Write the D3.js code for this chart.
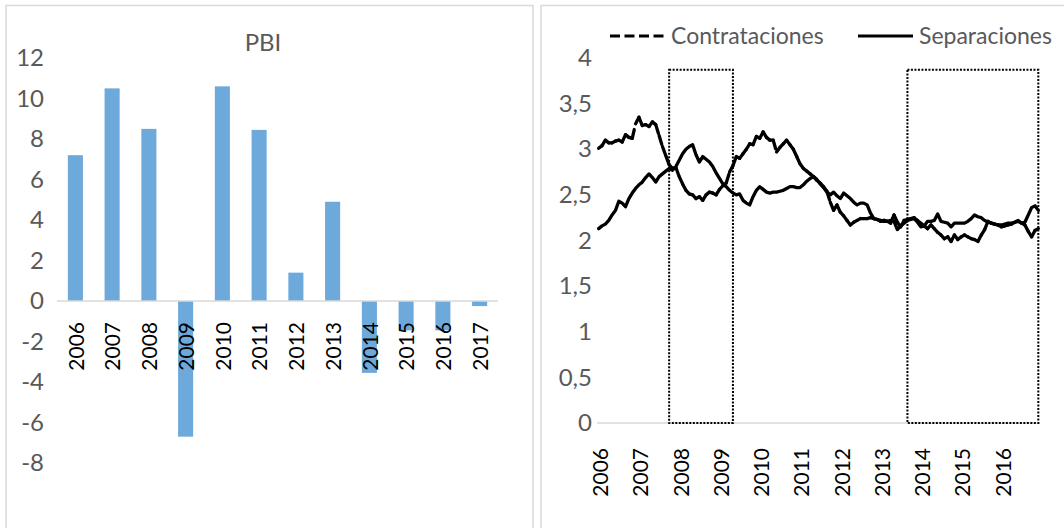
<!DOCTYPE html>
<html>
<head>
<meta charset="utf-8">
<script src="https://cdnjs.cloudflare.com/ajax/libs/d3/7.8.5/d3.min.js"></script>
<style>
  body { margin: 0; background: #fff; }
  text { font-family: "Century Gothic", Lato, sans-serif; }
</style>
</head>
<body>
<div id="chart"></div>
<script>
// --- left chart: PBI growth by year
const pbiYears = ['2006', '2007', '2008', '2009', '2010', '2011', '2012', '2013', '2014', '2015', '2016', '2017'];
const pbiValues = [7.2, 10.5, 8.5, -6.7, 10.6, 8.45, 1.4, 4.9, -3.55, -1.45, -1.45, -0.25];
const pbiTicks = [-8, -6, -4, -2, 0, 2, 4, 6, 8, 10, 12];
const pbiTitle = 'PBI';

// --- right chart: monthly rates, Jan 2006 .. Dec 2016
const flowYears = ['2006', '2007', '2008', '2009', '2010', '2011', '2012', '2013', '2014', '2015', '2016'];
const contrataciones = [
    3.01, 3.04, 3.10, 3.07, 3.07, 3.09, 3.10, 3.08, 3.16, 3.13, 3.12, 3.28,
    3.35, 3.26, 3.27, 3.25, 3.30, 3.27, 3.15, 3.03, 2.93, 2.83, 2.79, 2.80,
    2.70, 2.62, 2.55, 2.51, 2.50, 2.46, 2.48, 2.44, 2.50, 2.53, 2.52, 2.50,
    2.56, 2.60, 2.63, 2.75, 2.82, 2.92, 2.90, 2.95, 3.00, 3.06, 3.05, 3.14,
    3.12, 3.19, 3.13, 3.10, 3.10, 2.97, 3.02, 3.06, 3.10, 3.05, 3.00, 2.92,
    2.84, 2.79, 2.76, 2.73, 2.70, 2.66, 2.63, 2.59, 2.54, 2.42, 2.33, 2.39,
    2.31, 2.27, 2.22, 2.17, 2.20, 2.22, 2.24, 2.24, 2.24, 2.25, 2.24, 2.23,
    2.21, 2.22, 2.21, 2.19, 2.28, 2.20, 2.15, 2.22, 2.23, 2.24, 2.25, 2.22,
    2.19, 2.16, 2.13, 2.17, 2.13, 2.09, 2.06, 2.02, 2.04, 1.99, 2.06, 2.01,
    2.04, 2.06, 2.04, 2.02, 2.01, 1.99, 2.06, 2.12, 2.21, 2.19, 2.18, 2.17,
    2.15, 2.16, 2.17, 2.18, 2.20, 2.21, 2.19, 2.17, 2.10, 2.04, 2.11, 2.13
];
const separaciones = [
    2.13, 2.16, 2.18, 2.22, 2.28, 2.33, 2.43, 2.41, 2.37, 2.46, 2.52, 2.57,
    2.61, 2.64, 2.69, 2.73, 2.69, 2.64, 2.70, 2.73, 2.76, 2.79, 2.77, 2.81,
    2.88, 2.95, 3.00, 3.03, 3.05, 2.94, 2.86, 2.92, 2.89, 2.86, 2.81, 2.74,
    2.68, 2.62, 2.59, 2.55, 2.52, 2.50, 2.51, 2.44, 2.41, 2.39, 2.48, 2.55,
    2.59, 2.56, 2.53, 2.52, 2.53, 2.53, 2.54, 2.55, 2.57, 2.59, 2.59, 2.58,
    2.58, 2.61, 2.65, 2.68, 2.70, 2.67, 2.62, 2.58, 2.53, 2.50, 2.53, 2.49,
    2.46, 2.52, 2.49, 2.46, 2.42, 2.39, 2.41, 2.41, 2.39, 2.30, 2.24, 2.23,
    2.22, 2.21, 2.21, 2.22, 2.21, 2.12, 2.16, 2.19, 2.22, 2.23, 2.24, 2.20,
    2.15, 2.16, 2.21, 2.21, 2.22, 2.29, 2.21, 2.20, 2.19, 2.15, 2.19, 2.19,
    2.19, 2.19, 2.21, 2.24, 2.28, 2.26, 2.25, 2.22, 2.20, 2.19, 2.18, 2.17,
    2.17, 2.18, 2.19, 2.19, 2.20, 2.22, 2.19, 2.20, 2.28, 2.36, 2.38, 2.33
];
const rateTicks = [0, 0.5, 1, 1.5, 2, 2.5, 3, 3.5, 4];
// shaded periods (month index from Jan 2006), drawn as dotted boxes
const boxStart = [21, 92];
const boxEnd = [40, 131];
const boxTop = 3.87;
const seriesNames = ['Contrataciones', 'Separaciones'];

const W = 1064, H = 528;
const grey = '#595959';

const svg = d3.select('#chart')
    .append('svg')
    .attr('width', W)
    .attr('height', H);

DrawPanel(svg, 6, 527);
DrawPanel(svg, 541, 540);
DrawPbiChart(svg);
DrawFlowsChart(svg);

function DrawPanel(svg, x0, w) {
    svg.append('rect')
        .attr('x', x0).attr('y', 5.5)
        .attr('width', w).attr('height', H)
        .attr('fill', 'none')
        .attr('stroke', '#d9d9d9')
        .attr('stroke-width', 1.5);
}

function DrawPbiChart(svg) {
    const x = d3.scaleBand()
        .domain(pbiYears)
        .range([57, 498])
        .paddingInner(0.59)
        .paddingOuter(0.295);
    const y = d3.scaleLinear().domain([-8, 12]).range([463, 58]);

    svg.append('text')
        .attr('x', 263).attr('y', 51)
        .attr('text-anchor', 'middle')
        .attr('fill', grey)
        .attr('font-size', 24)
        .text(pbiTitle);

    // y axis labels (plain hyphen for negatives, as in the source)
    const yAxis = svg.append('g')
        .attr('transform', 'translate(44,0)')
        .call(d3.axisLeft(y).tickValues(pbiTicks).tickSize(0).tickPadding(0)
            .tickFormat(d => String(d)));
    yAxis.select('.domain').remove();
    yAxis.selectAll('text')
        .attr('fill', grey)
        .attr('font-size', 24)
        .style('font-family', '"Century Gothic", Lato, sans-serif');

    // bars
    svg.append('g')
        .selectAll('rect')
        .data(pbiValues)
        .join('rect')
        .attr('x', (d, i) => x(pbiYears[i]))
        .attr('width', x.bandwidth())
        .attr('y', d => y(Math.max(0, d)))
        .attr('height', d => Math.abs(y(d) - y(0)))
        .attr('fill', '#6ea9dc');

    // zero line
    svg.append('line')
        .attr('x1', 57).attr('x2', 498)
        .attr('y1', y(0)).attr('y2', y(0))
        .attr('stroke', '#d9d9d9')
        .attr('stroke-width', 1.5);

    // x labels, rotated
    const xAxis = svg.append('g')
        .attr('transform', 'translate(0,' + y(0) + ')')
        .call(d3.axisBottom(x).tickSize(0));
    xAxis.select('.domain').remove();
    xAxis.selectAll('text')
        .attr('transform', 'rotate(-90)')
        .attr('text-anchor', 'end')
        .attr('x', -21)
        .attr('y', 1)
        .attr('dy', '0.35em')
        .attr('fill', '#000')
        .attr('font-size', 21)
        .style('font-family', '"Century Gothic", Lato, sans-serif');
}

function DrawFlowsChart(svg) {
    const months = d3.range(contrataciones.length);
    const band = d3.scaleBand().domain(months).range([597, 1040]);
    const x = i => band(i) + band.bandwidth() / 2;
    const y = d3.scaleLinear().domain([0, 4]).range([423, 58]);

    // y axis labels
    const yAxis = svg.append('g')
        .attr('transform', 'translate(592,0)')
        .call(d3.axisLeft(y).tickValues(rateTicks).tickSize(0).tickPadding(0)
            .tickFormat(d => String(d).replace('.', ',')));
    yAxis.select('.domain').remove();
    yAxis.selectAll('text')
        .attr('fill', grey)
        .attr('font-size', 24)
        .style('font-family', '"Century Gothic", Lato, sans-serif');

    // zero line
    svg.append('line')
        .attr('x1', 597).attr('x2', 1040)
        .attr('y1', y(0)).attr('y2', y(0))
        .attr('stroke', '#d9d9d9')
        .attr('stroke-width', 1.5);

    // dotted boxes
    svg.append('g')
        .selectAll('rect')
        .data(boxStart)
        .join('rect')
        .attr('x', d => x(d))
        .attr('width', (d, i) => x(boxEnd[i]) - x(d))
        .attr('y', y(boxTop))
        .attr('height', y(0) - y(boxTop))
        .attr('fill', 'none')
        .attr('stroke', '#000')
        .attr('stroke-width', 2)
        .attr('stroke-dasharray', '2,1.5');

    // Separaciones: solid
    svg.append('path')
        .datum(separaciones)
        .attr('fill', 'none')
        .attr('stroke', '#000')
        .attr('stroke-width', 3.3)
        .attr('stroke-linejoin', 'round')
        .attr('stroke-linecap', 'round')
        .attr('d', d3.line().x((d, i) => x(i)).y(d => y(d)));

    // Contrataciones: dashed, pattern restarts at each monthly segment
    const segs = d3.pairs(contrataciones.map((v, i) => [x(i), y(v)]));
    svg.append('g')
        .selectAll('line')
        .data(segs)
        .join('line')
        .attr('x1', d => d[0][0]).attr('y1', d => d[0][1])
        .attr('x2', d => d[1][0]).attr('y2', d => d[1][1])
        .attr('stroke', '#000')
        .attr('stroke-width', 3.3)
        .attr('stroke-linecap', 'round')
        .attr('stroke-dasharray', '9,6');

    // year labels at January of each year
    const xAxis = svg.append('g')
        .attr('transform', 'translate(0,' + y(0) + ')');
    xAxis.selectAll('text')
        .data(flowYears)
        .join('text')
        .attr('transform', (d, k) => 'translate(' + (x(k * 12) + 2) + ',0) rotate(-90)')
        .attr('text-anchor', 'end')
        .attr('x', -25)
        .attr('dy', '0.35em')
        .attr('fill', '#000')
        .attr('font-size', 21)
        .text(d => d);

    // legend
    const legend = svg.append('g');
    const lx = [610, 858];
    legend.selectAll('line')
        .data(seriesNames)
        .join('line')
        .attr('x1', (d, i) => lx[i]).attr('x2', (d, i) => lx[i] + 55)
        .attr('y1', 36).attr('y2', 36)
        .attr('stroke', '#000')
        .attr('stroke-width', 3)
        .attr('stroke-dasharray', (d, i) => i === 0 ? '10,4.5' : null);
    legend.selectAll('text')
        .data(seriesNames)
        .join('text')
        .attr('x', (d, i) => lx[i] + 61)
        .attr('y', 44)
        .attr('fill', grey)
        .attr('font-size', 23)
        .text(d => d);
}
</script>
</body>
</html>
